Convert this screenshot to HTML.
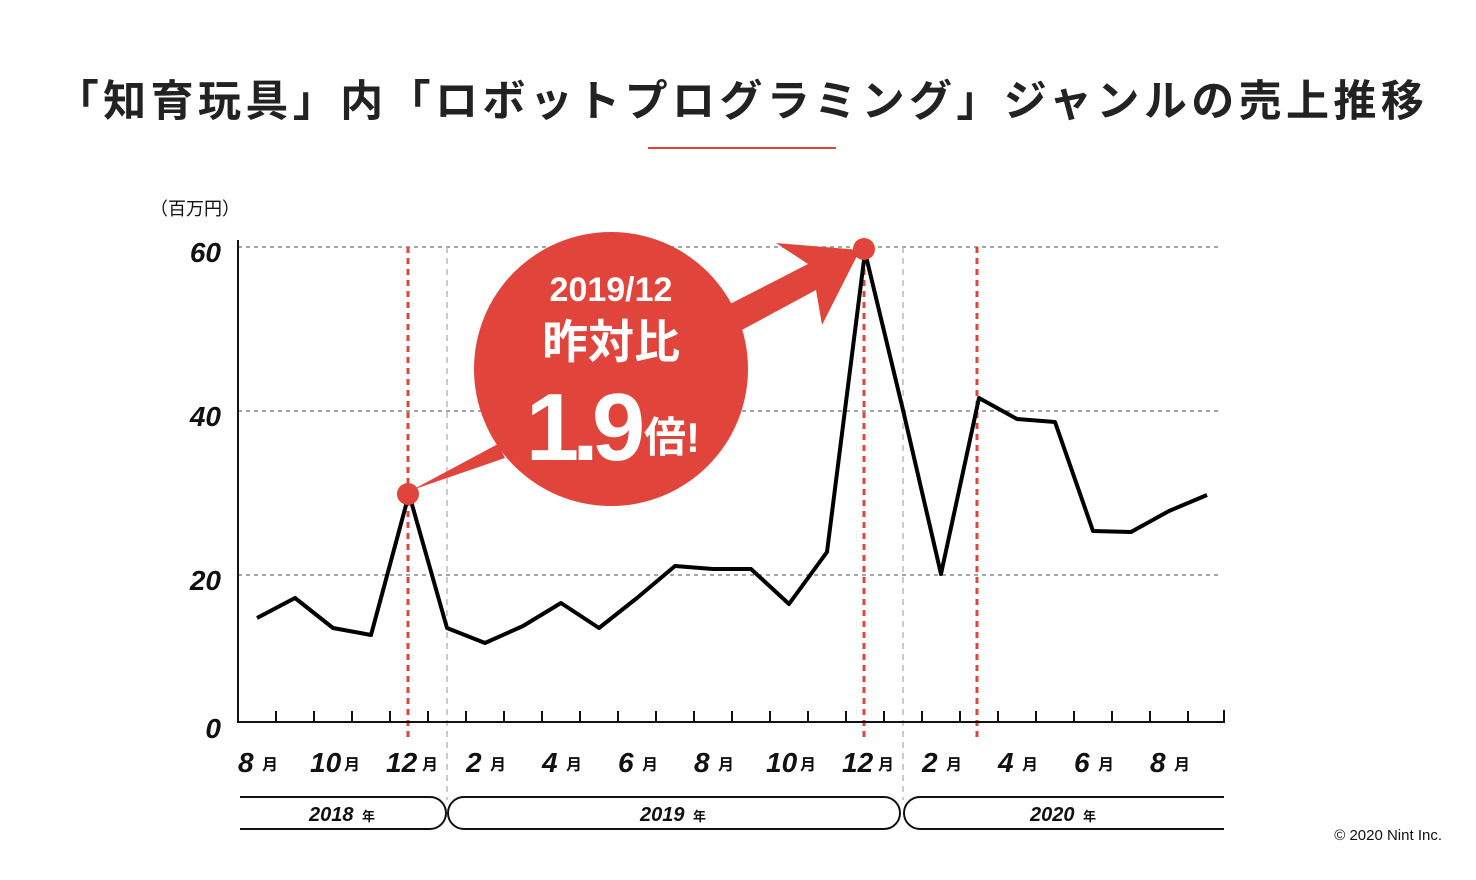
<!DOCTYPE html>
<html><head><meta charset="utf-8"><style>
html,body{margin:0;padding:0;background:#fff;}
svg{display:block;font-family:"Liberation Sans","Noto Sans CJK JP",sans-serif;}
</style></head><body>
<svg width="1476" height="880" viewBox="0 0 1476 880" xmlns="http://www.w3.org/2000/svg">
<text x="742" y="116" text-anchor="middle" font-size="43" font-weight="bold" fill="#222" letter-spacing="4.4">「知育玩具」内「ロボットプログラミング」ジャンルの売上推移</text>
<line x1="648" y1="148" x2="836" y2="148" stroke="#e0443b" stroke-width="2"/>
<text x="150" y="215" font-size="18" fill="#111">（百万円）</text>
<g stroke="#888" stroke-width="1.5" stroke-dasharray="4,4">
<line x1="238" y1="247" x2="1222" y2="247"/>
<line x1="238" y1="411" x2="1222" y2="411"/>
<line x1="238" y1="575" x2="1222" y2="575"/>
</g>
<g stroke="#bbb" stroke-width="1.5" stroke-dasharray="6,5">
<line x1="447" y1="247" x2="447" y2="800"/>
<line x1="903" y1="247" x2="903" y2="800"/>
</g>
<g stroke="#e0443b" stroke-width="3" stroke-dasharray="6,5">
<line x1="408" y1="247" x2="408" y2="742"/>
<line x1="864" y1="247" x2="864" y2="742"/>
<line x1="977" y1="247" x2="977" y2="742"/>
</g>
<polyline points="238,240 238,722 1224,722 1224,710" fill="none" stroke="#111" stroke-width="2"/>
<g stroke="#111" stroke-width="2">
<line x1="276" y1="711" x2="276" y2="722"/><line x1="314" y1="711" x2="314" y2="722"/><line x1="352" y1="711" x2="352" y2="722"/><line x1="390" y1="711" x2="390" y2="722"/><line x1="428" y1="711" x2="428" y2="722"/><line x1="466" y1="711" x2="466" y2="722"/><line x1="504" y1="711" x2="504" y2="722"/><line x1="542" y1="711" x2="542" y2="722"/><line x1="580" y1="711" x2="580" y2="722"/><line x1="618" y1="711" x2="618" y2="722"/><line x1="656" y1="711" x2="656" y2="722"/><line x1="694" y1="711" x2="694" y2="722"/><line x1="732" y1="711" x2="732" y2="722"/><line x1="770" y1="711" x2="770" y2="722"/><line x1="808" y1="711" x2="808" y2="722"/><line x1="846" y1="711" x2="846" y2="722"/><line x1="884" y1="711" x2="884" y2="722"/><line x1="922" y1="711" x2="922" y2="722"/><line x1="960" y1="711" x2="960" y2="722"/><line x1="998" y1="711" x2="998" y2="722"/><line x1="1036" y1="711" x2="1036" y2="722"/><line x1="1074" y1="711" x2="1074" y2="722"/><line x1="1112" y1="711" x2="1112" y2="722"/><line x1="1150" y1="711" x2="1150" y2="722"/><line x1="1188" y1="711" x2="1188" y2="722"/>
</g>
<g font-size="28" font-weight="bold" font-style="italic" fill="#111" text-anchor="end">
<text x="221" y="262">60</text><text x="221" y="426">40</text><text x="221" y="590">20</text><text x="221" y="738">0</text>
</g>
<g font-weight="bold" fill="#111">
<g font-size="28" font-style="italic">
<text x="238" y="772">8</text><text x="310" y="772">10</text><text x="386" y="772">12</text><text x="466" y="772">2</text><text x="542" y="772">4</text><text x="618" y="772">6</text><text x="694" y="772">8</text><text x="766" y="772">10</text><text x="842" y="772">12</text><text x="922" y="772">2</text><text x="998" y="772">4</text><text x="1074" y="772">6</text><text x="1150" y="772">8</text>
</g>
<g font-size="16">
<text x="262" y="770">月</text><text x="344" y="770">月</text><text x="422" y="770">月</text><text x="490" y="770">月</text><text x="566" y="770">月</text><text x="642" y="770">月</text><text x="718" y="770">月</text><text x="800" y="770">月</text><text x="878" y="770">月</text><text x="946" y="770">月</text><text x="1022" y="770">月</text><text x="1098" y="770">月</text><text x="1174" y="770">月</text>
</g>
</g>
<g fill="none" stroke="#111" stroke-width="2">
<path d="M240,797 H430 A16,16 0 0 1 430,829 H240"/>
<path d="M1224,797 H920 A16,16 0 0 0 920,829 H1224"/>
<path d="M464,797 H884 A16,16 0 0 1 884,829 H464 A16,16 0 0 1 464,797 Z"/>
</g>
<g font-weight="bold" fill="#111">
<text x="309" y="821" font-size="20" font-style="italic">2018</text><text x="362" y="821" font-size="13">年</text>
<text x="640" y="821" font-size="20" font-style="italic">2019</text><text x="693" y="821" font-size="13">年</text>
<text x="1030" y="821" font-size="20" font-style="italic">2020</text><text x="1083" y="821" font-size="13">年</text>
</g>
<text x="1442" y="840" text-anchor="end" font-size="15" fill="#111">© 2020 Nint Inc.</text>
<polyline fill="none" stroke="#000" stroke-width="4" stroke-linejoin="round" points="257,618 295,598 333,628 371,635 409,494 447,628 485,643 523,626 561,603 599,628 637,598 675,566 713,569 751,569 789,604 827,552 865,252 903,410 941,574 979,398 1017,419 1055,422 1093,531 1131,532 1169,511 1207,495"/>
<polygon points="412,490 498,444 505,458" fill="#e0443b"/>
<polygon points="728,305 808,264 776,243 860,250 822,325 816,290 740,331" fill="#e0443b"/>
<circle cx="611" cy="369" r="137" fill="#e0443b"/>
<circle cx="408" cy="494" r="11" fill="#e0443b"/>
<circle cx="864" cy="249" r="11" fill="#e0443b"/>
<g fill="#fff" font-weight="bold" text-anchor="middle">
<text x="611" y="301" font-size="34">2019/12</text>
<text x="611" y="358" font-size="46">昨対比</text>
<text x="582" y="460" font-size="96" letter-spacing="-7">1.9</text>
<text x="672" y="452" font-size="42">倍!</text>
</g>
</svg>
</body></html>
